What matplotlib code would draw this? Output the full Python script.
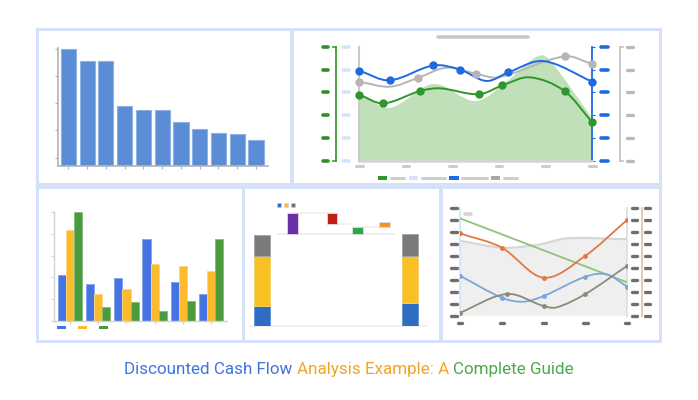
import numpy as np
import matplotlib
matplotlib.use("Agg")
import matplotlib.pyplot as plt
from matplotlib.path import Path
from matplotlib.patches import PathPatch, Rectangle

W, H = 698, 400

# ---- panel 1: sorted bars
bar_vals = [5.0, 4.55, 4.55, 2.9, 2.75, 2.75, 2.3, 2.05, 1.9, 1.85, 1.65]

# ---- panel 2: combo chart (area + three smooth lines)
area_x = [0, 0.66, 1.59, 2.5, 3.16, 3.8, 4.05, 5.0]
area_y = [2.96, 2.33, 3.37, 2.62, 3.47, 4.55, 4.49, 1.87]
green_x = [0, 0.515, 1.3, 1.73, 2.57, 3.07, 3.66, 4.41, 5.0]
green_y = [2.9, 2.52, 3.06, 3.18, 2.92, 3.31, 3.66, 3.05, 1.69]
green_marks = [0, 1, 2, 4, 5, 7, 8]
blue_x = [0, 0.65, 1.59, 2.16, 2.73, 3.2, 3.95, 5.0]
blue_y = [3.95, 3.53, 4.18, 4.0, 3.5, 3.88, 4.37, 3.47]
blue_marks = [0, 1, 2, 3, 5, 7]
gray_x = [0, 0.66, 1.25, 1.87, 2.5, 2.98, 4.41, 5.0]
gray_y = [3.47, 3.25, 3.63, 4.08, 3.82, 3.66, 4.58, 4.24]
gray_marks = [0, 2, 4, 6, 7]

# ---- panel 3: grouped bars
grp_blue = [2.11, 1.68, 1.98, 3.77, 1.8, 1.22]
grp_orange = [4.18, 1.22, 1.45, 2.6, 2.52, 2.31]
grp_green = [5.0, 0.65, 0.85, 0.46, 0.92, 3.77]

# ---- panel 4: waterfall
wf_total_x = [0, 5.78]
wf_blue = [2.2, 2.5]
wf_yellow = [5.44, 5.2]
wf_gray = [2.36, 2.37]
wf_step_x = [1.18, 2.73, 3.73, 4.78]
wf_step_lo = [10.1, 11.13, 10.1, 10.84]
wf_step_hi = [12.4, 12.4, 10.87, 11.42]
wf_step_col = ['#6a2fa6', '#c01e17', '#2ba84a', '#f7922b']

# ---- panel 5: lines over a grey area
bg_x = [0, 1.04, 1.91, 2.55, 4.0]
bg_y = [6.28, 5.7, 5.98, 6.48, 6.42]
ln_green_x = [0, 4]
ln_green_y = [8.16, 2.79]
ln_orange_x = [0, 1, 2.0, 3, 4]
ln_orange_y = [6.9, 5.7, 3.18, 5.03, 8.04]
ln_blue_x = [0, 1, 1.51, 2.0, 3.0, 3.51, 4.0]
ln_blue_y = [3.35, 1.51, 1.17, 1.65, 3.27, 3.46, 2.43]
ln_blue_marks = [0, 1, 3, 4, 6]
ln_olive_x = [0, 1.13, 2.0, 2.31, 3.0, 4.0]
ln_olive_y = [0.25, 1.82, 0.81, 0.70, 1.82, 4.19]
ln_olive_marks = [0, 1, 2, 4, 5]


def smooth_path(xs, ys, close_to=None):
    # cubic hermite through the points, drawn as bezier segments
    xs = np.asarray(xs, float)
    ys = np.asarray(ys, float)
    n = len(xs)
    m = np.zeros(n)
    for i in range(n):
        if i == 0:
            m[i] = (ys[1] - ys[0]) / (xs[1] - xs[0])
        elif i == n - 1:
            m[i] = (ys[-1] - ys[-2]) / (xs[-1] - xs[-2])
        else:
            m[i] = (ys[i + 1] - ys[i - 1]) / (xs[i + 1] - xs[i - 1])
    verts = [(xs[0], ys[0])]
    codes = [Path.MOVETO]
    for i in range(n - 1):
        dx = xs[i + 1] - xs[i]
        verts += [(xs[i] + dx / 3, ys[i] + m[i] * dx / 3),
                  (xs[i + 1] - dx / 3, ys[i + 1] - m[i + 1] * dx / 3),
                  (xs[i + 1], ys[i + 1])]
        codes += [Path.CURVE4] * 3
    if close_to is not None:
        verts += [(xs[-1], close_to), (xs[0], close_to), (xs[0], ys[0])]
        codes += [Path.LINETO, Path.LINETO, Path.CLOSEPOLY]
    return Path(verts, codes)


def pix_rect(x0, y0, x1, y1):
    return [x0 / W, 1 - y1 / H, (x1 - x0) / W, (y1 - y0) / H]


def ydash(ax, x0, x1, v, color, lw=2.2):
    # placeholder "tick label" beside the y axis
    ax.plot([x0, x1], [v, v], color=color, lw=lw, transform=ax.get_yaxis_transform(),
            clip_on=False, solid_capstyle='round')


def xdash(ax, v, half, y, color, lw=2.2):
    # placeholder "tick label" under the x axis
    ax.plot([v - half, v + half], [y, y], color=color, lw=lw,
            transform=ax.get_xaxis_transform(), clip_on=False, solid_capstyle='round')


fig = plt.figure(figsize=(W / 100, H / 100), dpi=100)
fig.patch.set_facecolor('white')

frame = '#d5e1f7'
fig.add_artist(Rectangle((36 / W, 1 - 343 / H), (662 - 36) / W, (343 - 28) / H,
                         transform=fig.transFigure, facecolor=frame,
                         edgecolor='none', zorder=-10))
panels = [(39, 31, 290, 183), (294, 31, 659, 183), (39, 189, 242, 340),
          (245, 189, 439, 340), (443, 189, 659, 340)]
for (a, b, c, d) in panels:
    fig.add_artist(Rectangle((a / W, 1 - d / H), (c - a) / W, (d - b) / H,
                             transform=fig.transFigure, facecolor='white',
                             edgecolor='none', zorder=-9))

# ---------------- panel 1
ax1 = fig.add_axes(pix_rect(57.7, 48, 268.3, 165.7))
ax1.patch.set_visible(False)
xb = np.arange(len(bar_vals))
ax1.bar(xb, bar_vals, width=0.81, color='#5a8dd5', edgecolor='#8eb1e6', lw=0.8)
ax1.set_xlim(-0.57, 10.66)
ax1.set_ylim(0.7, 5.02)
for s in ['top', 'right']:
    ax1.spines[s].set_visible(False)
for s in ['left', 'bottom']:
    ax1.spines[s].set_color('#b4b4b4')
    ax1.spines[s].set_linewidth(1.2)
ax1.set_yticks([1, 2, 3, 4, 5])
ax1.set_xticks(xb)
ax1.tick_params(length=2.5, color='#b4b4b4', labelleft=False, labelbottom=False)

# ---------------- panel 2
ax2 = fig.add_axes(pix_rect(359.3, 46.7, 592.3, 161))
ax2.patch.set_visible(False)
ax2.set_xlim(0, 5)
ax2.set_ylim(0, 5)
ax2.add_patch(PathPatch(smooth_path(area_x, area_y, close_to=0),
                        facecolor='#c0e0b9', edgecolor='none', zorder=1))
for xs, ys, mk, col in [(gray_x, gray_y, gray_marks, '#b5b5b5'),
                        (blue_x, blue_y, blue_marks, '#1d6ae3'),
                        (green_x, green_y, green_marks, '#2f962b')]:
    ax2.add_patch(PathPatch(smooth_path(xs, ys), facecolor='none',
                            edgecolor=col, lw=1.4, zorder=3))
    ax2.plot(np.array(xs)[mk], np.array(ys)[mk], 'o', color=col, ms=5, zorder=4,
             clip_on=False)
ax2.spines['top'].set_visible(False)
ax2.spines['left'].set_color('#c9c9c9')
ax2.spines['left'].set_linewidth(1.5)
ax2.spines['bottom'].set_color('#d4d4d4')
ax2.spines['bottom'].set_linewidth(1.8)
ax2.spines['right'].set_color('#1d6ae3')
ax2.spines['right'].set_linewidth(1.3)
ax2.yaxis.set_ticks_position('right')
ax2.set_yticks(range(6))
ax2.set_xticks([])
ax2.tick_params(axis='y', length=2.5, color='#1d6ae3', labelright=False)
yt = ax2.get_yaxis_transform()
ax2.plot([-0.101, -0.101], [0, 5], color='#3a9a33', lw=1.3, transform=yt, clip_on=False)
ax2.plot([1.119, 1.119], [0, 5], color='#c4c4c4', lw=1.3, transform=yt, clip_on=False)
for v in range(6):
    ydash(ax2, -0.157, -0.135, v, '#2e8f2a', lw=2.6)
    ydash(ax2, -0.070, -0.045, v, '#d6e4fb', lw=2.6)
    ydash(ax2, 1.038, 1.068, v, '#1d6ae3', lw=2.6)
    ydash(ax2, 1.147, 1.173, v, '#bababa', lw=2.4)
    if v in (0, 5):
        ax2.plot([-0.113, -0.101], [v, v], color='#3a9a33', lw=1.2, transform=yt, clip_on=False)
        ax2.plot([1.119, 1.131], [v, v], color='#c4c4c4', lw=1.2, transform=yt, clip_on=False)
for v in range(6):
    xdash(ax2, v, 0.07, -0.046, '#cccccc', lw=2.2)
ax2.plot([0.339, 0.725], [1.082, 1.082], color='#c9c9c9', lw=2.6,
         transform=ax2.transAxes, clip_on=False, solid_capstyle='round')
leg = [(0.0815, 0.120, '#2f962b', 0.135, 0.192),
       (0.212, 0.252, '#d6e4fb', 0.268, 0.369),
       (0.386, 0.427, '#1d6ae3', 0.44, 0.547),
       (0.564, 0.604, '#a9a9a9', 0.621, 0.678)]
for r0, r1, col, d0, d1 in leg:
    ax2.add_patch(Rectangle((r0, -0.168), r1 - r0, 0.036, transform=ax2.transAxes,
                            facecolor=col, edgecolor='none', clip_on=False))
    ax2.plot([d0, d1], [-0.151, -0.151], color='#cfcfcf', lw=2.2,
             transform=ax2.transAxes, clip_on=False, solid_capstyle='round')

# ---------------- panel 3
ax3 = fig.add_axes(pix_rect(54, 212.3, 227.3, 320.7))
ax3.patch.set_visible(False)
xg = np.arange(len(grp_blue))
bw = 0.29
ax3.bar(xg - bw, grp_blue, width=bw, color='#4673e4', edgecolor='#86a5ef', lw=0.7)
ax3.bar(xg, grp_orange, width=bw, color='#fbbb2c', edgecolor='#fdd57e', lw=0.7)
ax3.bar(xg + bw, grp_green, width=bw, color='#4c9a3e', edgecolor='#86bf7a', lw=0.7)
ax3.set_xlim(-0.57, 5.58)
ax3.set_ylim(0, 5)
for s in ['top', 'right']:
    ax3.spines[s].set_visible(False)
for s in ['left', 'bottom']:
    ax3.spines[s].set_color('#d2d2d2')
    ax3.spines[s].set_linewidth(1.0)
ax3.set_yticks(range(6))
ax3.set_xticks(xg)
ax3.tick_params(length=2, color='#d2d2d2', labelleft=False, labelbottom=False)
for r0, col in [(0.017, '#4673e4'), (0.138, '#fbbb2c'), (0.26, '#4c9a3e')]:
    ax3.add_patch(Rectangle((r0, -0.078), 0.052, 0.032, transform=ax3.transAxes,
                            facecolor=col, edgecolor='none', clip_on=False))

# ---------------- panel 4
ax4 = fig.add_axes(pix_rect(250, 200, 426.7, 326.3))
ax4.patch.set_visible(False)
ax4.set_xlim(-0.47, 6.42)
ax4.set_ylim(0, 13.77)
b1 = np.array(wf_blue)
b2 = b1 + np.array(wf_yellow)
ax4.bar(wf_total_x, wf_blue, width=0.62, color='#2f6cc3', edgecolor='#6d95d4', lw=0.7, zorder=3)
ax4.bar(wf_total_x, wf_yellow, bottom=b1, width=0.62, color='#f8c023', edgecolor='#f4cf6a', lw=0.7, zorder=3)
ax4.bar(wf_total_x, wf_gray, bottom=b2, width=0.62, color='#7a7a7a', edgecolor='#a5a5a5', lw=0.7, zorder=3)
ax4.bar(wf_step_x, np.array(wf_step_hi) - np.array(wf_step_lo), bottom=wf_step_lo,
        width=0.42, color=wf_step_col, edgecolor='#dddddd', lw=0.6, zorder=3)
ax4.plot([0.64, 5.14], [wf_step_lo[0], wf_step_lo[0]], color='#ececec', lw=1.2, zorder=1)
ax4.plot([wf_step_x[0], wf_step_x[1]], [wf_step_hi[0], wf_step_hi[1]], color='#eeeeee', lw=1.2, zorder=1)
ax4.plot([wf_step_x[1], wf_step_x[2] - 0.3], [wf_step_lo[1], wf_step_lo[1]], color='#eeeeee', lw=1.2, zorder=1)
ax4.plot([wf_step_x[2], wf_step_x[3]], [wf_step_lo[3], wf_step_lo[3]], color='#eeeeee', lw=1.2, zorder=1)
for s in ['top', 'right', 'left']:
    ax4.spines[s].set_visible(False)
ax4.spines['bottom'].set_color('#eeeeee')
ax4.spines['bottom'].set_linewidth(1.2)
ax4.set_xticks([])
ax4.set_yticks([])
for xx, col in [(0.162, '#2f6cc3'), (0.204, '#f8c023'), (0.245, '#6e6e6e')]:
    ax4.plot([xx], [0.962], 's', color=col, ms=3.2, mec='#d0d0d0', mew=0.4,
             transform=ax4.transAxes, clip_on=False)

# ---------------- panel 5
ax5 = fig.add_axes(pix_rect(460, 208.3, 627.3, 315.7))
ax5.patch.set_visible(False)
ax5.set_xlim(0, 4)
ax5.set_ylim(0, 9)
ax5.add_patch(PathPatch(smooth_path(bg_x, bg_y, close_to=0), facecolor='#efefef',
                        edgecolor='none', zorder=1))
ax5.add_patch(PathPatch(smooth_path(bg_x, bg_y), facecolor='none',
                        edgecolor='#d6d6d6', lw=1.5, zorder=1))
ax5.plot(ln_green_x, ln_green_y, color='#8cc47c', lw=1.3, zorder=3)
ax5.add_patch(PathPatch(smooth_path(ln_orange_x, ln_orange_y), facecolor='none',
                        edgecolor='#e07a45', lw=1.3, zorder=3))
ax5.plot(ln_orange_x, ln_orange_y, 'o', color='#e07a45', ms=2.5, zorder=4)
ax5.add_patch(PathPatch(smooth_path(ln_blue_x, ln_blue_y), facecolor='none',
                        edgecolor='#7ba6da', lw=1.3, zorder=3))
ax5.plot(np.array(ln_blue_x)[ln_blue_marks], np.array(ln_blue_y)[ln_blue_marks], 'o',
         color='#7ba6da', ms=2.5, zorder=4)
ax5.add_patch(PathPatch(smooth_path(ln_olive_x, ln_olive_y), facecolor='none',
                        edgecolor='#8b8b7a', lw=1.3, zorder=3))
ax5.plot(np.array(ln_olive_x)[ln_olive_marks], np.array(ln_olive_y)[ln_olive_marks], 'o',
         color='#8b8b7a', ms=2.5, zorder=4)
for s in ax5.spines.values():
    s.set_visible(False)
ax5.set_xticks([])
ax5.set_yticks([])
yt5 = ax5.get_yaxis_transform()
ax5.plot([0, 0], [0, 9], color='#d3e2f6', lw=1.2, transform=yt5, clip_on=False)
ax5.plot([1, 1], [0, 9], color='#dddddd', lw=1.2, transform=yt5, clip_on=False)
ax5.plot([1.086, 1.086], [0, 9], color='#e6bcae', lw=1.2, transform=yt5, clip_on=False)
for v in range(10):
    ydash(ax5, -0.052, -0.018, v, '#6f6f6f', lw=2.4)
    ydash(ax5, 1.028, 1.058, v, '#6f6f6f', lw=2.4)
    ydash(ax5, 1.106, 1.138, v, '#6f6f6f', lw=2.4)
for v in range(5):
    xdash(ax5, v, 0.05, -0.072, '#6f6f6f', lw=2.4)
ax5.plot([0.028, 0.066], [0.95, 0.95], color='#d4d4d4', lw=2.6,
         transform=ax5.transAxes, clip_on=False, solid_capstyle='round')

# ---------------- title
parts = [("Discounted Cash Flow ", '#3f74df'),
         ("Analysis Example: A ", '#f4a423'),
         ("Complete Guide", '#4ca84a')]
fig.canvas.draw()
r = fig.canvas.get_renderer()
texts = []
for s, col in parts:
    t = fig.text(0, 1 - 374 / H, s, color=col, fontsize=12.25, family='Roboto',
                 va='baseline', ha='left')
    texts.append(t)
widths = [t.get_window_extent(r).width for t in texts]
x = 349 - sum(widths) / 2
for t, w in zip(texts, widths):
    t.set_x(x / W)
    x += w

fig.savefig('out.png', dpi=100)
